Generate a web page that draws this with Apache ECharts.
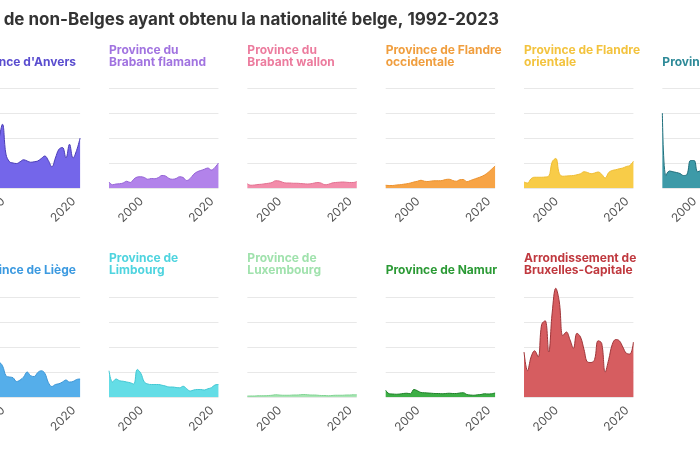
<!DOCTYPE html>
<html><head><meta charset="utf-8">
<script src="https://cdn.jsdelivr.net/npm/echarts@6/dist/echarts.min.js"></script>
<style>html,body{margin:0;padding:0;background:#fff;overflow:hidden;width:700px;height:450px}
#wrap{position:relative;width:700px;height:450px;overflow:hidden}
#chart{position:absolute;left:-40px;top:0;width:840px;height:450px}</style>
</head><body><div id="wrap"><div id="chart"></div></div>
<script>
const years = ['1992','1993','1994','1995','1996','1997','1998','1999','2000','2001','2002','2003','2004','2005','2006','2007','2008','2009','2010','2011','2012','2013','2014','2015','2016','2017','2018','2019','2020','2021','2022','2023'];
const tickLabels = ['2000','2020'];
const mainTitle = 'Nombre de non-Belges ayant obtenu la nationalité belge, 1992-2023';

const anvers = [null,null,null,null,null,null,5500,6500,9750,12750,6750,5250,5000,4900,5250,5650,5400,5150,5250,5400,5900,6400,5500,4250,6000,7750,8100,6000,8750,6000,7500,10000];
const brabantFlamand = [1200,650,800,850,1000,1350,1100,1750,2200,2250,2100,1750,1900,1850,2100,2500,2400,1900,1750,1900,2250,2100,1500,1900,2750,3250,3500,3750,4000,3600,4100,5000];
const brabantWallon = [850,550,600,700,750,850,950,1100,1450,1400,1150,1000,1000,950,950,900,850,800,850,1000,1100,950,650,750,1000,1100,1150,1200,1150,1100,1100,1300];
const flandreOcc = [550,500,500,600,650,750,850,1000,1200,1350,1550,1350,1300,1400,1450,1450,1500,1700,1750,1500,1350,1650,1700,1250,1500,1750,2000,2250,2600,3100,3750,4400];
const flandreOr = [1200,1000,1850,2150,2150,2150,2200,2350,5250,5900,2900,2350,2400,2450,2500,2650,2850,3250,3100,2850,3000,3200,2750,2000,3100,3500,3650,3850,4000,4300,4500,5350];
const hainaut = [15000,2500,3400,3250,3100,2900,2500,2750,5500,5500,3250,3500,3600,null,null,null,null,null,null,null,null,null,null,null,null,null,null,null,null,null,null,null];
const liege = [null,null,null,null,null,null,5500,6500,6900,6250,4250,4000,3850,3100,3400,4000,5000,4250,4100,4900,5250,4750,2900,2100,2500,2650,3000,3400,3000,3100,3500,3600];
const limbourg = [5250,3000,3600,3250,3150,3000,2850,2600,5500,4750,3000,2600,2500,2500,2500,2350,2200,2000,2000,1900,1850,2150,1650,1200,1400,1500,1500,1400,1650,1850,2400,2500];
const luxembourg = [200,200,200,250,250,250,300,350,450,400,350,350,350,400,400,450,500,450,400,400,350,300,300,250,300,350,350,350,400,400,450,450];
const namur = [1350,650,600,550,600,700,750,650,1500,1250,900,850,800,750,700,700,650,700,750,700,700,800,850,500,400,350,450,500,650,600,650,800];
const bruxelles = [9000,5250,8000,9250,8000,14500,15250,9000,17000,21750,19000,12250,13000,11500,9750,12750,12000,9500,7000,6900,7500,11250,10750,5000,7500,10500,11500,11250,10000,8750,8600,11000];

const panelNames = ["Province d'Anvers","Province du\nBrabant flamand","Province du\nBrabant wallon","Province de Flandre\noccidentale","Province de Flandre\norientale","Province de Hainaut","Province de Liège","Province de\nLimbourg","Province de\nLuxembourg","Province de Namur","Arrondissement de\nBruxelles-Capitale"];
const panelData = [anvers,brabantFlamand,brabantWallon,flandreOcc,flandreOr,hainaut,liege,limbourg,luxembourg,namur,bruxelles];
const fillColors = ['#7466ea','#b283ea','#f38caa','#f7a446','#f8cc48','#3d9aa8','#55aeea','#64dde6','#a6e6b2','#3cae45','#d65d60'];
const lineColors = ['#4a3cb6','#9463d6','#e2708f','#ea912e','#efbd32','#1f6f7c','#3c96d6','#42c8d4','#80d293','#1f7f29','#a03539'];
const titleColors = ['#5a4dcf','#a173e0','#ec7c9e','#f09e3e','#f3c33e','#2e8a98','#3c9ae0','#4fd4df','#a0e2ad','#2b9a35','#c0393f'];

const FONT = 'Inter';
const SHIFT = 40;            // chart canvas starts 40px left of the page
const CW = 840;
const colX = i => SHIFT - 29.3 + 138.33 * i;
const rowBase = [188, 397];
const H = 125, W = 109.4;

const grids = [], xAxes = [], yAxes = [], series = [], titles = [];
titles.push({text: mainTitle, right: CW - (SHIFT + 499), top: 9, padding: 0,
  textStyle: {fontFamily: FONT, fontSize: 17, fontWeight: 'bold', color: '#333', lineHeight: 22}});

panelData.forEach((d, i) => {
  const row = i < 6 ? 0 : 1;
  const col = i < 6 ? i : i - 6;
  const left = colX(col);
  grids.push({left: left, top: rowBase[row] - H, width: W, height: H, containLabel: false});
  xAxes.push({type: 'category', gridIndex: i, data: years, boundaryGap: false,
    axisLine: {show: false}, axisTick: {show: false}, splitLine: {show: false},
    axisLabel: {interval: (idx, val) => tickLabels.includes(val), rotate: 45, margin: 7,
      verticalAlign: 'top', color: '#555', fontSize: 12, fontFamily: FONT}});
  yAxes.push({type: 'value', gridIndex: i, min: 0, max: 25000, interval: 5000,
    axisLabel: {show: false}, axisLine: {show: false}, axisTick: {show: false},
    splitLine: {show: true, showMaxLine: false, lineStyle: {color: '#e8e8e8', width: 1}}});
  series.push({type: 'line', xAxisIndex: i, yAxisIndex: i, data: d, smooth: 0.4,
    symbol: 'none', connectNulls: false,
    lineStyle: {color: lineColors[i], width: 1},
    areaStyle: {color: fillColors[i], opacity: 1}});
  const twoLine = panelNames[i].includes('\n');
  const baseTop = row === 0 ? 44 : 252;
  const t = {text: panelNames[i], top: twoLine ? baseTop : baseTop + 12, padding: 0,
    textStyle: {fontFamily: FONT, fontSize: 12, fontWeight: 'bold', color: titleColors[i], lineHeight: 12}};
  if (col === 0) t.right = CW - (SHIFT + 76); else t.left = left;
  titles.push(t);
});

const chart = echarts.init(document.getElementById('chart'), null, {renderer: 'canvas', width: CW, height: 450});
chart.setOption({animation: false, backgroundColor: '#fff', title: titles, grid: grids,
  xAxis: xAxes, yAxis: yAxes, series: series});
</script>
</body></html>
